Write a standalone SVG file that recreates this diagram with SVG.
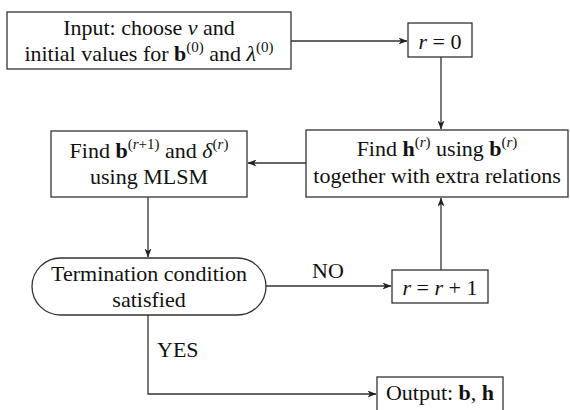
<svg xmlns="http://www.w3.org/2000/svg" width="570" height="410" viewBox="0 0 570 410">
<defs>
<marker id="ah" markerWidth="9" markerHeight="7" refX="8.5" refY="3.5" orient="auto" markerUnits="userSpaceOnUse">
<path d="M0,0 L9,3.5 L0,7 L2.5,3.5 Z" fill="#222"/>
</marker>
<style>
.box{fill:#fff;stroke:#333;stroke-width:1.3}
.c{fill:none;stroke:#333;stroke-width:1.3}
text{font-family:"Liberation Serif","Times New Roman",serif;font-size:22px;fill:#111}
.m{text-anchor:middle}
.i{font-style:italic}
.b{font-weight:bold}
.s{font-size:15px}
</style>
</defs>
<rect width="570" height="410" fill="#fff"/>
<g id="connectors">
<path class="c" d="M291,41 H407" marker-end="url(#ah)"/>
<path class="c" d="M441,57 V129" marker-end="url(#ah)"/>
<path class="c" d="M306,163 H248" marker-end="url(#ah)"/>
<path class="c" d="M148,197 V257" marker-end="url(#ah)"/>
<path class="c" d="M266,286 H391" marker-end="url(#ah)"/>
<path class="c" d="M441,270 V198" marker-end="url(#ah)"/>
<path class="c" d="M148,315 V394 H376" marker-end="url(#ah)"/>
<text x="312" y="278">NO</text>
<text x="157" y="357">YES</text>
</g>
<g id="input">
<rect class="box" x="7" y="12" width="284" height="57"/>
<text class="m" x="149" y="35">Input: choose <tspan class="i">v</tspan> and</text>
<text class="m" x="149" y="61">initial values for <tspan class="b">b</tspan><tspan class="s" dy="-9">(0)</tspan><tspan dy="9"> and </tspan><tspan class="i">λ</tspan><tspan class="s" dy="-9">(0)</tspan></text>
</g>
<g id="r0">
<rect class="box" x="408" y="23" width="64" height="34"/>
<text class="m" x="440" y="49"><tspan class="i">r</tspan> = 0</text>
</g>
<g id="findh">
<rect class="box" x="306" y="130" width="262" height="67"/>
<text class="m" x="437" y="156">Find <tspan class="b">h</tspan><tspan class="s" dy="-9">(</tspan><tspan class="s i">r</tspan><tspan class="s">)</tspan><tspan dy="9"> using </tspan><tspan class="b">b</tspan><tspan class="s" dy="-9">(</tspan><tspan class="s i">r</tspan><tspan class="s">)</tspan></text>
<text class="m" x="437" y="183">together with extra relations</text>
</g>
<g id="findb">
<rect class="box" x="51" y="131" width="196" height="66"/>
<text class="m" x="149" y="158">Find <tspan class="b">b</tspan><tspan class="s" dy="-9">(</tspan><tspan class="s i">r</tspan><tspan class="s">+1)</tspan><tspan dy="9"> and </tspan><tspan class="i">δ</tspan><tspan class="s" dy="-9">(</tspan><tspan class="s i">r</tspan><tspan class="s">)</tspan></text>
<text class="m" x="149" y="184">using MLSM</text>
</g>
<g id="termination">
<rect class="box" x="32" y="258" width="234" height="57" rx="28.5" ry="28.5"/>
<text class="m" x="149" y="281">Termination condition</text>
<text class="m" x="149" y="307">satisfied</text>
</g>
<g id="rinc">
<rect class="box" x="392" y="270" width="96" height="33"/>
<text class="m" x="440" y="295"><tspan class="i">r</tspan> = <tspan class="i">r</tspan> + 1</text>
</g>
<g id="output">
<rect class="box" x="377" y="377" width="126" height="40"/>
<text class="m" x="440" y="400">Output: <tspan class="b">b</tspan>, <tspan class="b">h</tspan></text>
</g>
</svg>
